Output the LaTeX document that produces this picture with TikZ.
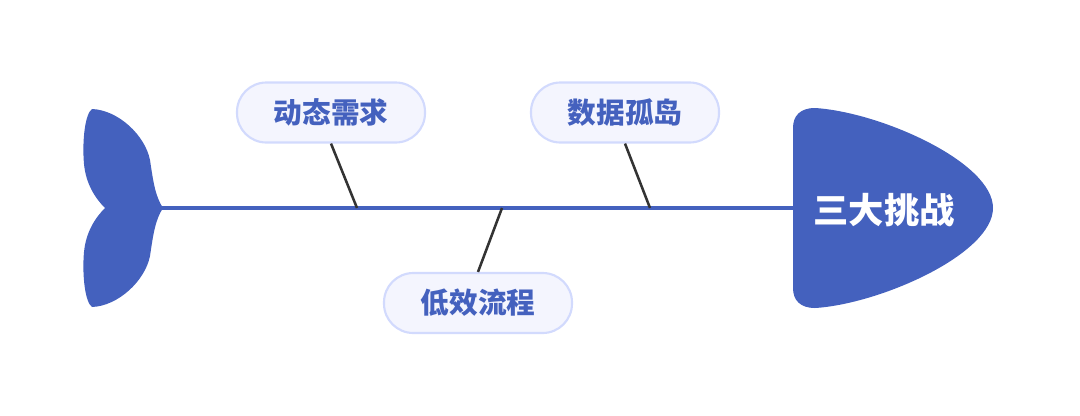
\documentclass[tikz,border=0pt]{standalone}
\usepackage{fontspec}
\newfontfamily\cjk{Noto Sans CJK SC}
\definecolor{fishblue}{RGB}{68,97,190}
\definecolor{boxfill}{RGB}{244,245,254}
\definecolor{boxline}{RGB}{210,218,253}
\definecolor{bone}{RGB}{51,51,51}
\tikzset{
  label box/.style={draw=boxline, line width=1.6pt, fill=boxfill, rounded corners=22pt,
    minimum width=141pt, minimum height=45pt, inner sep=0pt,
    font=\cjk\bfseries\fontsize{21.5}{21.5}\selectfont, text=fishblue},
  bone line/.style={draw=bone, line width=1.9pt},
}
\begin{document}
\begin{tikzpicture}[x=0.75pt,y=-0.75pt]
\useasboundingbox (0,0) rectangle (1080,415);
% tail
\fill[fishblue] (92,109) .. controls (118,110) and (145,135) .. (150,160)
  .. controls (153,180) and (155,196) .. (163,208)
  .. controls (155,220) and (153,236) .. (150,256)
  .. controls (145,281) and (118,306) .. (92,307)
  .. controls (85,302) and (82,275) .. (84,252)
  .. controls (86,232) and (95,218) .. (105,208)
  .. controls (95,198) and (86,184) .. (84,164)
  .. controls (82,141) and (85,114) .. (92,109) -- cycle;
% head
\fill[fishblue] (793,128) .. controls (793,116) and (800,108) .. (815,108)
  .. controls (880,112) and (993,162) .. (993,208)
  .. controls (993,254) and (880,304) .. (815,308)
  .. controls (800,308) and (793,300) .. (793,288) -- cycle;
\node[text=white, font=\cjk\bfseries\fontsize{26.5}{26.5}\selectfont] (head) at (884,210) {三大挑战};
% spine
\coordinate (tail) at (160,208);
\coordinate (neck) at (796,208);
\draw[fishblue, line width=2.3pt] (tail) -- (neck);
% labels
\node[label box] (b1) at (331,112.5) {动态需求};
\node[label box] (b2) at (625,112.5) {数据孤岛};
\node[label box] (b3) at (478,303) {低效流程};
\coordinate (j1) at (357,208);
\coordinate (j2) at (650,208);
\coordinate (j3) at (502,208);
\draw[bone line] (b1.south) -- (j1);
\draw[bone line] (b2.south) -- (j2);
\draw[bone line] (b3.north) -- (j3);
\end{tikzpicture}
\end{document}
